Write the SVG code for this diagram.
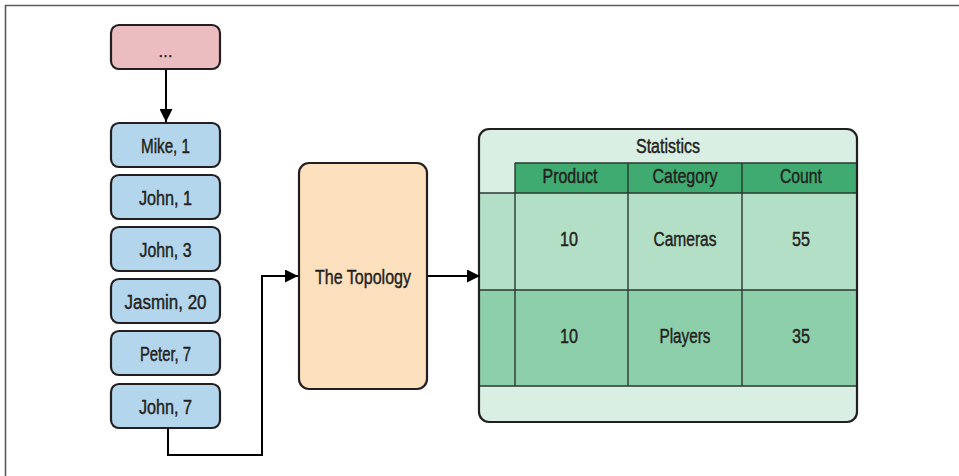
<svg xmlns="http://www.w3.org/2000/svg" width="959" height="476" viewBox="0 0 959 476">
<style>
text{font-family:"Liberation Sans",Arial,sans-serif;fill:#231f20;stroke:#231f20;stroke-width:0.45;text-anchor:middle;dominant-baseline:central}
.box{stroke:#231f20;stroke-width:2.2}
.in{fill:#b3d6ec}
.lbl{font-size:20px}
.tl{font-size:20px}
.grid{stroke:#2b3a31;stroke-width:1.4;fill:none}
.con{stroke:#000;stroke-width:2;fill:none}
</style>
<defs>
<marker id="ah" viewBox="0 0 10 10" refX="10" refY="5" markerWidth="13" markerHeight="13" markerUnits="userSpaceOnUse" orient="auto">
<path d="M0,0 L10,5 L0,10 z" fill="#000"/>
</marker>
</defs>
<rect width="959" height="476" fill="#fff"/>
<path d="M5.5,476 V5.5 H959" fill="none" stroke="#5a5a5a" stroke-width="1.6"/>

<g id="n-more"><rect class="box" x="111" y="25" width="109" height="44" rx="8" fill="#ebbdc1"/><text x="165.5" y="51" font-size="16" textLength="15" lengthAdjust="spacingAndGlyphs">…</text></g>
<g id="n-mike"><rect class="box in" x="111" y="123" width="109" height="44" rx="8"/><text class="lbl" x="165.5" y="146" textLength="49" lengthAdjust="spacingAndGlyphs">Mike, 1</text></g>
<g id="n-john1"><rect class="box in" x="111" y="175" width="109" height="44" rx="8"/><text class="lbl" x="165.5" y="198" textLength="53" lengthAdjust="spacingAndGlyphs">John, 1</text></g>
<g id="n-john3"><rect class="box in" x="111" y="227" width="109" height="44" rx="8"/><text class="lbl" x="165.5" y="250" textLength="52" lengthAdjust="spacingAndGlyphs">John, 3</text></g>
<g id="n-jasmin"><rect class="box in" x="111" y="279" width="109" height="44" rx="8"/><text class="lbl" x="165.5" y="302" textLength="82" lengthAdjust="spacingAndGlyphs">Jasmin, 20</text></g>
<g id="n-peter"><rect class="box in" x="111" y="331" width="109" height="44" rx="8"/><text class="lbl" x="165.5" y="354" textLength="51" lengthAdjust="spacingAndGlyphs">Peter, 7</text></g>
<g id="n-john7"><rect class="box in" x="111" y="384" width="109" height="44" rx="8"/><text class="lbl" x="165.5" y="407" textLength="53" lengthAdjust="spacingAndGlyphs">John, 7</text></g>

<g id="n-topology"><rect class="box" x="299" y="163" width="128" height="226" rx="10" fill="#fde0bd"/><text x="363" y="276" font-size="21" textLength="96" lengthAdjust="spacingAndGlyphs">The Topology</text></g>

<g id="n-statistics">
<rect x="479" y="129" width="378" height="293" rx="10" fill="#d9efe3"/>
<rect x="515" y="163" width="342" height="30" fill="#3fab70"/>
<rect x="480" y="193" width="377" height="97" fill="#b3dfc7"/>
<rect x="480" y="290" width="377" height="96" fill="#8dcfab"/>
<path class="grid" d="M515,163 H857 M480,193 H857 M480,290 H857 M480,386 H857 M515,163 V386 M628,163 V386 M742,163 V386"/>
<rect class="box" x="479" y="129" width="378" height="293" rx="10" fill="none" stroke-width="2.6"/>
<text class="tl" x="668" y="146" textLength="64" lengthAdjust="spacingAndGlyphs">Statistics</text>
<text class="tl" x="570" y="176" textLength="55" lengthAdjust="spacingAndGlyphs">Product</text>
<text class="tl" x="685" y="176" textLength="65" lengthAdjust="spacingAndGlyphs">Category</text>
<text class="tl" x="801" y="176" textLength="42" lengthAdjust="spacingAndGlyphs">Count</text>
<text class="tl" x="569" y="239" textLength="18" lengthAdjust="spacingAndGlyphs">10</text>
<text class="tl" x="685" y="239" textLength="63" lengthAdjust="spacingAndGlyphs">Cameras</text>
<text class="tl" x="801" y="239" textLength="18" lengthAdjust="spacingAndGlyphs">55</text>
<text class="tl" x="569" y="336" textLength="18" lengthAdjust="spacingAndGlyphs">10</text>
<text class="tl" x="685" y="336" textLength="51" lengthAdjust="spacingAndGlyphs">Players</text>
<text class="tl" x="801" y="336" textLength="18" lengthAdjust="spacingAndGlyphs">35</text>
</g>

<g id="connectors">
<path class="con" d="M166,70 V122" marker-end="url(#ah)"/>
<path class="con" d="M168,429 V455 H262 V276 H298" marker-end="url(#ah)"/>
<path class="con" d="M428,276 H480" marker-end="url(#ah)"/>
</g>
</svg>
